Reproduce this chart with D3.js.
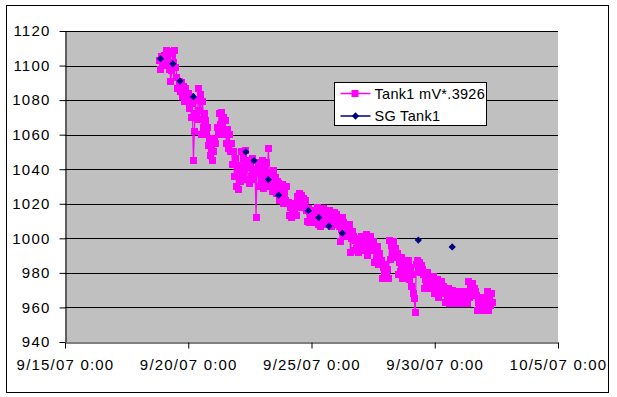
<!DOCTYPE html>
<html>
<head>
<meta charset="utf-8">
<script src="https://cdn.jsdelivr.net/npm/d3@7"></script>
<style>
  body { margin: 0; background: #fff; }
  svg { display: block; font-family: Arial, "Liberation Sans", sans-serif; }
</style>
</head>
<body>
<svg id="chart" width="617" height="397"></svg>
<script>
// Tank1 mV*.3926 - hourly readings from 9/18/07 20:00
const tankStart = new Date(2007, 8, 18, 20)
const tankStepHours = 1
const tankValues = [
  1103, 1098, 1105, 1100, 1104,
  1106, 1100, 1109, 1103, 1108, 1098, 1091, 1097, 1107, 1102, 1109, 1099,
  1093, 1087, 1091, 1085, 1090, 1082, 1088, 1079, 1087, 1080, 1084,
  1084, 1075, 1082, 1070, 1078, 1045, 1062, 1080, 1072, 1069,
  1087, 1074, 1083, 1060, 1079, 1064, 1072,
  1068, 1060, 1064, 1054, 1058, 1048, 1052, 1045,
  1050, 1058, 1055, 1064, 1060, 1072, 1066, 1073, 1064, 1070,
  1060, 1068, 1055, 1063, 1052, 1060, 1050,
  1055, 1043, 1050, 1036, 1046, 1030, 1042, 1028, 1040, 1033,
  1050, 1036, 1046, 1040, 1051, 1034, 1044,
  1045, 1032, 1041, 1036, 1046, 1034, 1040, 1012,
  1038, 1044, 1030, 1040, 1034, 1045, 1029, 1041, 1035, 1044, 1031,
  1052, 1038, 1030, 1036, 1027, 1039, 1031, 1035, 1026, 1033,
  1032, 1022, 1029, 1024, 1031, 1020, 1027, 1022, 1030, 1021,
  1021, 1013, 1018, 1012, 1020, 1014, 1019, 1013,
  1024, 1018, 1026, 1020, 1025, 1019, 1023, 1018, 1022, 1016,
  1010, 1017, 1009, 1014, 1011, 1016, 1009, 1015, 1010, 1013,
  1018, 1008, 1015, 1007, 1016, 1010, 1017, 1008, 1014, 1009, 1016,
  1009, 1016, 1007, 1013, 1010, 1015, 1008, 1014, 1009, 1012, 1007, 998, 1005, 1012,
  1009, 1002, 1007, 1001, 1006, 1003, 1008, 992, 1000, 1004,
  1001, 993, 999, 994, 1000, 992, 998, 995, 1001, 993, 997, 994,
  998, 1002, 990, 996, 1001, 993, 997,
  998, 986, 993, 988, 995, 985, 991, 987,
  987, 977, 983, 979, 985, 978, 982, 977,
  999, 988, 996, 991, 998, 989, 994, 990,
  991, 979, 986, 981, 989, 977, 984, 980, 987, 983,
  987, 976, 983, 972, 979, 968, 965, 957,
  985, 987, 981, 986, 980, 984, 982,
  979, 971, 976, 973, 980, 972, 977, 971, 975, 973,
  978, 968, 974, 970, 976, 966, 972, 968, 975, 971,
  972, 963, 969, 965, 971, 962, 968, 964, 970, 966,
  969, 962, 966, 963, 969, 964, 968, 962, 967, 963, 969, 964, 967, 962,
  975, 966, 972, 968, 974, 967, 971, 969,
  967, 958, 963, 960, 966, 958, 964, 959, 965, 961,
  969, 958, 966, 961, 968, 963
]

// SG Tank1 readings
const sgDates = [
  '2007-09-18 21:00', '2007-09-19 09:00', '2007-09-19 16:00', '2007-09-20 05:00',
  '2007-09-22 08:00', '2007-09-22 16:00', '2007-09-23 06:00', '2007-09-23 16:00',
  '2007-09-24 21:00', '2007-09-25 07:00', '2007-09-25 17:00', '2007-09-26 06:00',
  '2007-09-29 08:00', '2007-09-30 17:00'
]
const sgValues = [1104, 1101, 1091, 1082, 1050, 1045, 1034, 1025, 1016, 1012, 1007, 1003, 999, 995]

const yTicks = [940, 960, 980, 1000, 1020, 1040, 1060, 1080, 1100, 1120]
const xTickLabels = ['9/15/07 0:00', '9/20/07 0:00', '9/25/07 0:00', '9/30/07 0:00', '10/5/07 0:00']

const seriesNames = ['Tank1 mV*.3926', 'SG Tank1']
const colors = ['#ff00ff', '#000080']

const parseTime = d3.timeParse('%Y-%m-%d %H:%M')
const parseTick = d3.timeParse('%-m/%-d/%y %H:%M')

const tank = tankValues.map((v, i) => ({ date: d3.timeHour.offset(tankStart, i * tankStepHours), value: v }))
const sg = sgDates.map((d, i) => ({ date: parseTime(d), value: sgValues[i] }))
const xTicks = xTickLabels.map(parseTick)

const svg = d3.select('#chart')

// outer chart border
svg.append('rect')
    .attr('x', 6.5).attr('y', 5.5)
    .attr('width', 602).attr('height', 387)
    .attr('fill', '#fff')
    .attr('stroke', '#000')

const plot = { left: 65, top: 31, right: 558, bottom: 342 }

const x = d3.scaleTime()
    .domain([xTicks[0], xTicks[xTicks.length - 1]])
    .range([plot.left, plot.right])

const y = d3.scaleLinear()
    .domain([yTicks[0], yTicks[yTicks.length - 1]])
    .range([plot.bottom, plot.top])

// plot area
svg.append('rect')
    .attr('x', plot.left).attr('y', plot.top)
    .attr('width', plot.right - plot.left).attr('height', plot.bottom - plot.top)
    .attr('fill', '#c0c0c0')

// gridlines
svg.append('g')
    .selectAll('line')
    .data(yTicks.slice(1))
    .enter().append('line')
      .attr('x1', plot.left).attr('x2', plot.right)
      .attr('y1', d => Math.round(y(d)) + 0.5)
      .attr('y2', d => Math.round(y(d)) + 0.5)
      .attr('stroke', '#000')

// axes
svg.append('g')
    .attr('transform', `translate(${plot.left + 0.5},0)`)
    .call(d3.axisLeft(y).tickValues(yTicks).tickSize(6).tickSizeOuter(0).tickPadding(9).tickFormat(d3.format('d')))

svg.append('g')
    .attr('transform', `translate(0,${plot.bottom + 0.5})`)
    .call(d3.axisBottom(x).tickValues(xTicks).tickSize(6).tickSizeOuter(0).tickPadding(11)
        .tickFormat((d, i) => xTickLabels[i]))

svg.selectAll('.tick text')
    .attr('fill', '#000')
    .style('font-size', '15px')
    .style('letter-spacing', '1.2px')
svg.selectAll('.domain, .tick line').attr('stroke', '#000')

// Tank1 series
const line = d3.line()
    .x(d => x(d.date))
    .y(d => y(d.value))

svg.append('path')
    .datum(tank)
    .attr('fill', 'none')
    .attr('stroke', colors[0])
    .attr('stroke-width', 1.2)
    .attr('d', line)

svg.append('g')
    .attr('shape-rendering', 'crispEdges')
    .selectAll('rect')
    .data(tank)
    .enter().append('rect')
      .attr('x', d => x(d.date) - 3.5)
      .attr('y', d => y(d.value) - 3.5)
      .attr('width', 7).attr('height', 7)
      .attr('fill', colors[0])

// SG series: diamonds only
const diamond = d3.symbol().type(d3.symbolDiamond2).size(34)

svg.append('g')
    .selectAll('path')
    .data(sg)
    .enter().append('path')
      .attr('transform', d => `translate(${x(d.date)},${y(d.value)})`)
      .attr('d', diamond)
      .attr('fill', colors[1])

// legend
const legend = svg.append('g').attr('transform', 'translate(334.5,82.5)')
legend.append('rect')
    .attr('width', 152).attr('height', 43)
    .attr('fill', '#fff').attr('stroke', '#000')

seriesNames.forEach((name, i) => {
  const row = legend.append('g').attr('transform', `translate(0,${11 + i * 22.5})`)
  row.append('line')
      .attr('x1', 6).attr('x2', 36)
      .attr('stroke', colors[i]).attr('stroke-width', 1.5)
  if (i === 0) {
    row.append('rect').attr('x', 17).attr('y', -3.5).attr('width', 7).attr('height', 7).attr('fill', colors[i])
  } else {
    row.append('path').attr('transform', 'translate(21,0)').attr('d', diamond).attr('fill', colors[i])
  }
  row.append('text')
      .attr('x', 40).attr('dy', '0.36em')
      .style('font-size', '14.5px')
      .style('letter-spacing', '0.3px')
      .text(name)
})
</script>
</body>
</html>
